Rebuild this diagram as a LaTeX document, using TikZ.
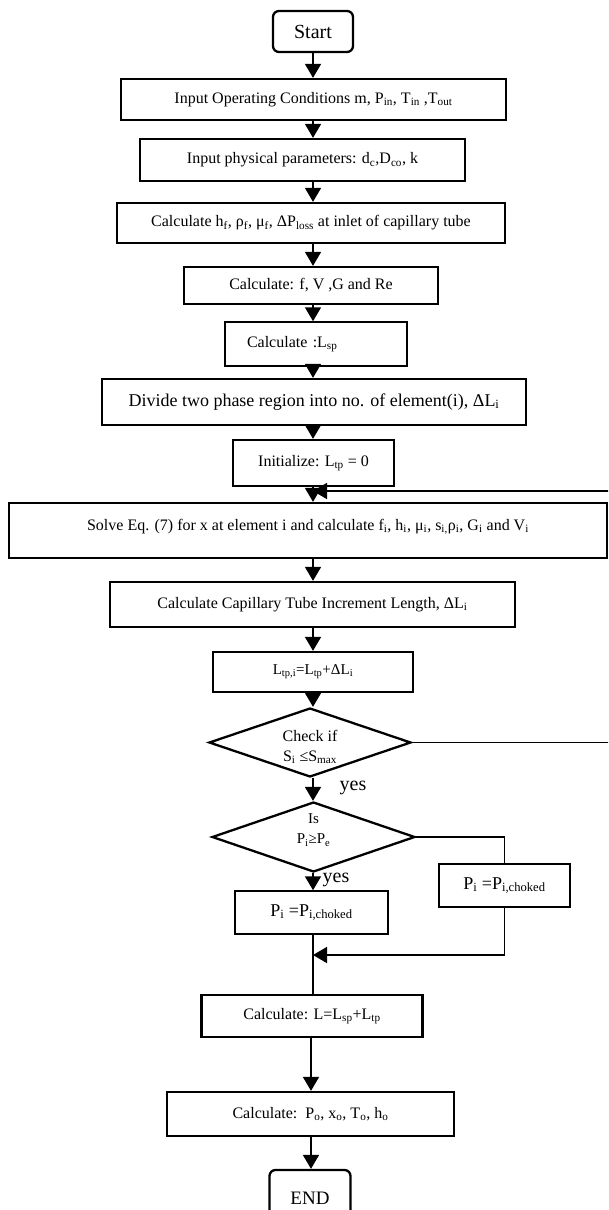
\documentclass[tikz,border=0pt]{standalone}
\usepackage{fontspec}
\setmainfont{Liberation Serif}
\usetikzlibrary{arrows.meta,shapes.geometric}
\newcommand{\sbs}[1]{\textsubscript{#1}}
\tikzset{
  box/.style={draw, line width=2.3pt, inner sep=2pt, align=center, font=\fontsize{16}{19}\selectfont},
  thinbox/.style={box, line width=1.5pt},
  rbox/.style={box, rounded corners=6pt},
  dec/.style={draw, diamond, line width=2.3pt, inner sep=0pt, aspect=2.9, align=center},
  conn/.style={line width=1.7pt},
  arr/.style={conn, -{Triangle[length=14pt,width=16pt]}},
  lbl/.style={font=\fontsize{20}{22}\selectfont, inner sep=0pt}
}
\begin{document}
\begin{tikzpicture}[x=1pt,y=-1pt]
\useasboundingbox (0,0) rectangle (608,1210);
\clip (0,0) rectangle (608,1210);
\coordinate (axis) at (313,0);
\coordinate (axisb) at (311,0);
\coordinate (loopR) at (625,0);
\coordinate (fb) at (313,491);
\coordinate (mg) at (313,955);

\node[rbox, minimum width=80pt, minimum height=41pt, font=\fontsize{20}{22}\selectfont] (start) at (313,31.5) {Start};
\node[box, minimum width=385pt, minimum height=41pt] (inop) at (313.5,99.5) {Input Operating Conditions m, P\sbs{in}, T\sbs{in} ,T\sbs{out}};
\node[box, minimum width=325pt, minimum height=42pt] (phys) at (302.5,160) {Input physical parameters: d\sbs{c},D\sbs{co}, k};
\node[box, minimum width=388pt, minimum height=40pt] (hf) at (311,223) {Calculate h\sbs{f}, ρ\sbs{f}, μ\sbs{f}, ΔP\sbs{loss} at inlet of capillary tube};
\node[box, minimum width=254pt, minimum height=37pt] (fv) at (311,285.5) {Calculate: f, V ,G and Re};
\node[thinbox, minimum width=182pt, minimum height=44pt, text width=138pt, inner xsep=22pt, align=left] (lsp) at (316,344) {Calculate :L\sbs{sp}};
\node[box, minimum width=424pt, minimum height=46pt, font=\fontsize{18}{21}\selectfont] (divide) at (314,402) {Divide two phase region into no. of element(i), ΔL\sbs{i}};
\node[box, minimum width=161pt, minimum height=46pt] (init) at (313.5,463) {Initialize: L\sbs{tp} = 0};
\node[box, minimum width=598pt, minimum height=55pt, text depth=12pt] (solve) at (308,530.5) {Solve Eq. (7) for x at element i and calculate f\sbs{i}, h\sbs{i}, μ\sbs{i}, s\sbs{i,}ρ\sbs{i}, G\sbs{i} and V\sbs{i}};
\node[box, minimum width=405pt, minimum height=45pt] (cap) at (312.5,604.5) {Calculate Capillary Tube Increment Length, ΔL\sbs{i}};
\node[box, minimum width=200pt, minimum height=40pt, font=\fontsize{15}{17}\selectfont] (ltp) at (313,672) {L\sbs{tp,i}=L\sbs{tp}+ΔL\sbs{i}};
\node[dec, minimum width=202pt, minimum height=69pt, font=\fontsize{16}{20}\selectfont, text height=40pt] (check) at (310,742.5) {Check if\\S\sbs{i} ≤S\sbs{max}};
\node[dec, minimum width=203pt, minimum height=70pt, font=\fontsize{15}{20}\selectfont, text depth=16pt] (is) at (313.5,837) {Is\\P\sbs{i}≥P\sbs{e}};
\node[thinbox, minimum width=153pt, minimum height=43pt, font=\fontsize{18}{21}\selectfont] (pl) at (311.5,912.5) {P\sbs{i} =P\sbs{i,choked}};
\node[thinbox, minimum width=131pt, minimum height=43pt, font=\fontsize{18}{21}\selectfont] (pr) at (504.5,885.5) {P\sbs{i} =P\sbs{i,choked}};
\node[box, minimum width=221pt, minimum height=42pt] (calcl) at (312,1016) {Calculate: L=L\sbs{sp}+L\sbs{tp}};
\node[box, minimum width=287pt, minimum height=44pt] (calcpo) at (310.5,1114) {Calculate:\ \ P\sbs{o}, x\sbs{o}, T\sbs{o}, h\sbs{o}};
\node[rbox, minimum width=81pt, minimum height=56pt, font=\fontsize{19}{22}\selectfont] (endn) at (310,1198) {END};

\node[lbl] (yes1) at (353,788) {yes};
\node[lbl] (yes2) at (336,880) {yes};

\draw[arr] (start.south -| axis) -- (inop.north -| axis);
\draw[arr] (inop.south -| axis) -- (phys.north -| axis);
\draw[arr] (phys.south -| axis) -- (hf.north -| axis);
\draw[arr] (hf.south -| axis) -- (fv.north -| axis);
\draw[arr] (fv.south -| axis) -- (lsp.north -| axis);
\draw[arr] (lsp.south -| axis) -- (divide.north -| axis);
\draw[arr] (divide.south -| axis) -- (init.north -| axis);
\draw[arr] (init.south -| axis) -- (solve.north -| axis);
\draw[arr] (solve.south -| axis) -- (cap.north -| axis);
\draw[arr] (cap.south -| axis) -- (ltp.north -| axis);
\draw[arr] (ltp.south -| axis) -- (check.north -| axis);
\draw[arr] (check.south -| axis) -- (is.north -| axis);
\draw[arr] (is.south -| axis) -- (pl.north -| axis);
\draw[arr] (check.east) -- (check.east -| loopR) -- (loopR |- fb) -- (fb);
\draw[conn] (is.east) -| (pr.north);
\draw[arr] (pr.south) -- (pr.south |- mg) -- (mg);
\draw[conn] (pl.south -| axis) -- (calcl.north -| axis);
\draw[arr] (calcl.south -| axisb) -- (calcpo.north -| axisb);
\draw[arr] (calcpo.south -| axisb) -- (endn.north -| axisb);
\end{tikzpicture}
\end{document}
